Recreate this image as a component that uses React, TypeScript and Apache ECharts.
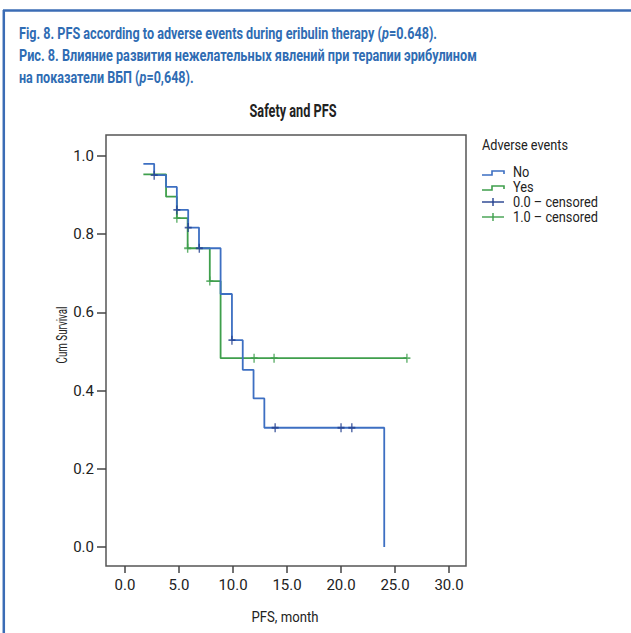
import React, { useEffect, useRef } from "react";
import * as echarts from "echarts";

// ---- data ----
const noTimes = [1.7, 2.7, 3.8, 4.8, 5.85, 6.85, 8.85, 9.9, 10.9, 11.9, 12.9, 24.0];
const noSurv = [0.98, 0.951, 0.921, 0.862, 0.817, 0.764, 0.647, 0.529, 0.453, 0.38, 0.305, 0.0];
const yesTimes = [1.7, 3.8, 4.8, 5.8, 7.85, 8.85, 26.1];
const yesSurv = [0.953, 0.896, 0.841, 0.764, 0.68, 0.483, 0.483];
const noCensTimes = [2.7, 4.8, 5.85, 6.88, 9.9, 13.9, 20.0, 21.0];
const noCensSurv = [0.951, 0.862, 0.817, 0.764, 0.529, 0.305, 0.305, 0.305];
const yesCensTimes = [4.8, 5.8, 7.85, 11.95, 13.8, 26.1];
const yesCensSurv = [0.841, 0.764, 0.68, 0.483, 0.483, 0.483];
const xTicks = [0, 5, 10, 15, 20, 25, 30];
const yTicks = [0, 0.2, 0.4, 0.6, 0.8, 1.0];
const legendTitle = "Adverse events";
const legendLabels = ["No", "Yes", "0.0 \u2013 censored", "1.0 \u2013 censored"];
const chartTitle = "Safety and PFS";
const xName = "PFS, month";
const yName = "Cum Survival";

const titleLine1 = "Fig. 8. PFS according to adverse events during eribulin therapy (";
const titleLine1b = "=0.648).";
const titleLine2 = "Рис. 8. Влияние развития нежелательных явлений при терапии эрибулином";
const titleLine3 = "на показатели ВБП (";
const titleLine3b = "=0,648).";

const BLUE = "#3d6fc2";
const GREEN = "#3f9f4c";
const BLUE_C = "#23408f";
const GREEN_C = "#3f9f4c";
const TITLE_BLUE = "#2f6cb3";
const FONT = "Roboto, 'Liberation Sans', sans-serif";

const zip = (a: number[], b: number[]) => a.map((v, i) => [v, b[i]]);

let ctx: CanvasRenderingContext2D | null = null;
const measure = (text: string, font: string) => {
  if (!ctx) ctx = document.createElement("canvas").getContext("2d");
  if (!ctx) return 1;
  ctx.font = font;
  return ctx.measureText(text).width || 1;
};
const fit = (text: string, font: string, target: number) => target / measure(text, font);

export default function App() {
  const ref = useRef<HTMLDivElement>(null);
  useEffect(() => {
    if (!ref.current) return;
    const chart = echarts.init(ref.current, undefined, { renderer: "svg" });
    const cens = "path://M5,0L5,10M0,5L10,5";
    const stepIcon = (x: number, y: number, color: string) => ({
      type: "polyline",
      shape: { points: [[x, y + 3], [x + 10, y + 3], [x + 10, y - 1], [x + 22, y - 1], [x + 22, y + 2]] },
      style: { stroke: color, lineWidth: 1.6, fill: "none" },
    });
    const censIcon = (x: number, y: number, color: string) => ({
      type: "group",
      children: [
        { type: "line", shape: { x1: x, y1: y, x2: x + 22, y2: y }, style: { stroke: color, lineWidth: 1.4 } },
        { type: "line", shape: { x1: x + 11, y1: y - 4, x2: x + 11, y2: y + 4 }, style: { stroke: color, lineWidth: 1.4 } },
      ],
    });
    const legendY = [172, 187, 202, 217];
    const legendColors = [BLUE, GREEN, BLUE_C, GREEN_C];
    const tFont = "bold 16px " + FONT;
    const s1 = fit(titleLine1 + "p" + titleLine1b, tFont, 418);
    const s2 = fit(titleLine2, tFont, 458);
    const s3 = fit(titleLine3 + "p" + titleLine3b, tFont, 175);
    const ctFont = "bold 18px " + FONT;
    const sct = fit(chartTitle, ctFont, 87);
    const lFont = "15px " + FONT;
    const legFont = "14px " + FONT;
    const sLeg = fit(legendLabels[2], legFont, 85);
    const sLegT = fit(legendTitle, lFont, 86);
    const sx = fit(xName, lFont, 67);
    const sy = fit(yName, lFont, 57);
    const richI = { i: { fontStyle: "italic", fontWeight: "bold", fontSize: 16, fontFamily: FONT, fill: TITLE_BLUE } };
    chart.setOption({
      animation: false,
      grid: { left: 106, right: 165, top: 135, bottom: 67, show: true, borderColor: "#555", borderWidth: 1.5, backgroundColor: "transparent" },
      xAxis: {
        type: "value",
        min: -1.76,
        max: 31.57,
        axisLine: { show: false, onZero: false },
        axisTick: { show: true, length: 7, lineStyle: { color: "#444", width: 1.5 }, customValues: xTicks },
        axisLabel: { margin: 11, fontSize: 15, color: "#222", fontFamily: FONT, formatter: (v: number) => v.toFixed(1), customValues: xTicks },
        splitLine: { show: false },
      },
      yAxis: {
        type: "value",
        min: -0.0486,
        max: 1.0537,
        axisLine: { show: false, onZero: false },
        axisTick: { show: true, length: 9, lineStyle: { color: "#444", width: 1.5 }, customValues: yTicks },
        axisLabel: { margin: 12, fontSize: 15, color: "#222", fontFamily: FONT, formatter: (v: number) => v.toFixed(1), customValues: yTicks },
        splitLine: { show: false },
      },
      series: [
        { type: "line", step: "end", data: zip(noTimes, noSurv), symbol: "none", lineStyle: { color: BLUE, width: 1.8 }, z: 3 },
        { type: "line", step: "end", data: zip(yesTimes, yesSurv), symbol: "none", lineStyle: { color: GREEN, width: 1.8 }, z: 2 },
        { type: "scatter", data: zip(noCensTimes, noCensSurv), symbol: cens, symbolSize: [7, 9], itemStyle: { color: "none", borderColor: BLUE_C, borderWidth: 1.6 }, z: 5 },
        { type: "scatter", data: zip(yesCensTimes, yesCensSurv), symbol: cens, symbolSize: [7, 9], itemStyle: { color: "none", borderColor: GREEN_C, borderWidth: 1.6 }, z: 4 },
      ],
      graphic: [
        { type: "line", shape: { x1: 3, y1: 10.5, x2: 631, y2: 10.5 }, style: { stroke: "#3b6cb5", lineWidth: 2.5 } },
        { type: "line", shape: { x1: 3.8, y1: 10, x2: 3.8, y2: 633 }, style: { stroke: "#3b6cb5", lineWidth: 2.5 } },
        {
          type: "text", x: 19, y: 34, scaleX: s1,
          style: { text: titleLine1 + "{i|p}" + titleLine1b, fill: TITLE_BLUE, font: tFont, verticalAlign: "middle", rich: richI },
        },
        { type: "text", x: 19, y: 56, scaleX: s2, style: { text: titleLine2, fill: TITLE_BLUE, font: tFont, verticalAlign: "middle" } },
        {
          type: "text", x: 19, y: 78, scaleX: s3,
          style: { text: titleLine3 + "{i|p}" + titleLine3b, fill: TITLE_BLUE, font: tFont, verticalAlign: "middle", rich: richI },
        },
        { type: "text", x: 293, y: 111, scaleX: sct, style: { text: chartTitle, fill: "#222", font: ctFont, align: "center", verticalAlign: "middle" } },
        { type: "text", x: 62, y: 335, rotation: Math.PI / 2, scaleX: sy, style: { text: yName, fill: "#222", font: lFont, align: "center", verticalAlign: "middle" } },
        { type: "text", x: 285, y: 617, scaleX: sx, style: { text: xName, fill: "#222", font: lFont, align: "center", verticalAlign: "middle" } },
        { type: "text", x: 482, y: 145, scaleX: sLegT, style: { text: legendTitle, fill: "#222", font: lFont, verticalAlign: "middle" } },
        stepIcon(482, legendY[0], legendColors[0]),
        stepIcon(482, legendY[1], legendColors[1]),
        censIcon(482, legendY[2], legendColors[2]),
        censIcon(482, legendY[3], legendColors[3]),
        ...legendLabels.map((t, i) => ({ type: "text", x: 513, y: legendY[i], scaleX: sLeg, style: { text: t, fill: "#222", font: legFont, verticalAlign: "middle" } })),
      ],
    });
    return () => chart.dispose();
  }, []);
  return <div ref={ref} style={{ position: "fixed", left: 0, top: 0, width: 631, height: 633, background: "#fff" }} />;
}
